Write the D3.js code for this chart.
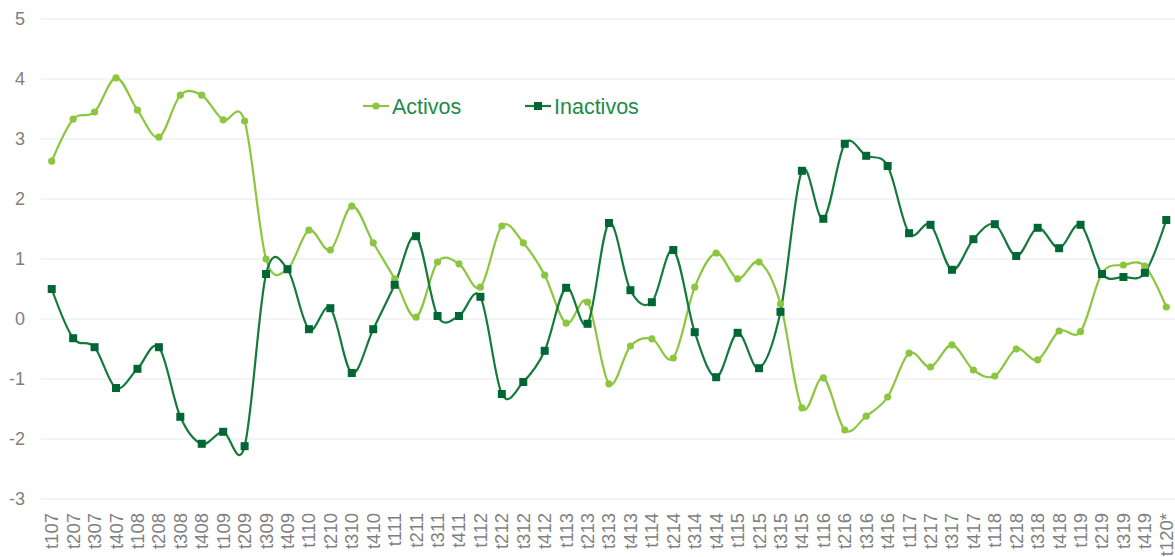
<!DOCTYPE html>
<html>
<head>
<meta charset="utf-8">
<script src="https://cdn.jsdelivr.net/npm/d3@7"></script>
<style>
  body { margin: 0; background: #fff; }
  svg { display: block; font-family: "Liberation Sans", Arial, sans-serif; }
</style>
</head>
<body>
<div id="chart"></div>
<script>
// periodos (trimestre + año)
var periodos = ["t107","t207","t307","t407","t108","t208","t308","t408","t109","t209",
  "t309","t409","t110","t210","t310","t410","t111","t211","t311","t411",
  "t112","t212","t312","t412","t113","t213","t313","t413","t114","t214",
  "t314","t414","t115","t215","t315","t415","t116","t216","t316","t416",
  "t117","t217","t317","t417","t118","t218","t318","t418","t119","t219",
  "t319","t419","t120*"];

var activos = [2.63, 3.33, 3.45, 4.02, 3.48, 3.03, 3.73, 3.73, 3.32, 3.30,
  1.00, 0.83, 1.48, 1.15, 1.88, 1.27, 0.67, 0.03, 0.95, 0.92,
  0.53, 1.55, 1.27, 0.73, -0.07, 0.28, -1.08, -0.45, -0.33, -0.65,
  0.53, 1.10, 0.67, 0.95, 0.25, -1.48, -0.98, -1.85, -1.62, -1.30,
  -0.57, -0.80, -0.43, -0.85, -0.95, -0.50, -0.68, -0.20, -0.21, 0.76,
  0.90, 0.88, 0.20];

var inactivos = [0.50, -0.32, -0.47, -1.15, -0.83, -0.47, -1.63, -2.08, -1.88, -2.12,
  0.75, 0.83, -0.17, 0.18, -0.90, -0.17, 0.57, 1.38, 0.05, 0.05,
  0.37, -1.25, -1.05, -0.53, 0.52, -0.08, 1.60, 0.48, 0.28, 1.15,
  -0.22, -0.97, -0.23, -0.82, 0.12, 2.47, 1.67, 2.92, 2.72, 2.55,
  1.43, 1.57, 0.82, 1.33, 1.58, 1.05, 1.52, 1.18, 1.57, 0.75,
  0.70, 0.77, 1.65];

var yTicks = [-3, -2, -1, 0, 1, 2, 3, 4, 5];

var W = 1175, H = 557;
var margin = { top: 19, right: 0, bottom: 58, left: 41 };

var colActivos = "#8cc63f",
    colInactivos = "#137a3c",
    colInactMarker = "#006633",
    colTexto = "#7f7f7f";

var svg = d3.select("#chart").append("svg")
    .attr("width", W)
    .attr("height", H);

var x = d3.scaleBand()
    .domain(periodos)
    .range([margin.left, W - margin.right + 2]);

var y = d3.scaleLinear()
    .domain([-3, 5])
    .range([H - margin.bottom, margin.top]);

var cx = function(i) { return x(periodos[i]) + x.bandwidth() / 2; };

// lineas de cuadricula
svg.append("g")
  .selectAll("line")
  .data(yTicks)
  .enter().append("line")
    .attr("x1", margin.left)
    .attr("x2", W)
    .attr("y1", d => y(d))
    .attr("y2", d => y(d))
    .attr("stroke", "#e6ebe8")
    .attr("stroke-width", 1);

// eje Y
var yAxis = svg.append("g")
    .attr("transform", "translate(" + (margin.left - 16) + ",0)")
    .call(d3.axisLeft(y).tickValues(yTicks).tickSize(0).tickPadding(0)
      .tickFormat(d => String(d)));
yAxis.select(".domain").remove();
yAxis.attr("font-size", null).attr("font-family", null);
yAxis.selectAll("text")
    .style("font-size", "18px")
    .attr("fill", colTexto);

// eje X (etiquetas rotadas)
var xAxis = svg.append("g")
    .attr("transform", "translate(0," + (H - margin.bottom) + ")")
    .call(d3.axisBottom(x).tickSize(0).tickPadding(0));
xAxis.select(".domain").remove();
xAxis.attr("font-size", null).attr("font-family", null);
xAxis.selectAll("text")
    .style("font-size", "18.5px")
    .attr("fill", colTexto)
    .attr("text-anchor", "end")
    .attr("transform", "rotate(-90)")
    .attr("x", -14)
    .attr("y", 0)
    .attr("dy", "0.35em");

var linea = d3.line()
    .x((d, i) => cx(i))
    .y(d => y(d))
    .curve(d3.curveCardinal.tension(0));

// Activos
svg.append("path")
    .datum(activos)
    .attr("d", linea)
    .attr("fill", "none")
    .attr("stroke", colActivos)
    .attr("stroke-width", 2.2);

// Inactivos
svg.append("path")
    .datum(inactivos)
    .attr("d", linea)
    .attr("fill", "none")
    .attr("stroke", colInactivos)
    .attr("stroke-width", 2.2);

svg.append("g")
  .selectAll("circle")
  .data(activos)
  .enter().append("circle")
    .attr("cx", (d, i) => cx(i))
    .attr("cy", d => y(d))
    .attr("r", 3.6)
    .attr("fill", colActivos);

svg.append("g")
  .selectAll("rect")
  .data(inactivos)
  .enter().append("rect")
    .attr("x", (d, i) => cx(i) - 4)
    .attr("y", d => y(d) - 4)
    .attr("width", 8)
    .attr("height", 8)
    .attr("fill", colInactMarker);

// leyenda
var leyenda = [
  { nombre: "Activos", color: colActivos, marca: "circle", x: 363 },
  { nombre: "Inactivos", color: colInactivos, marca: "rect", x: 525 }
];
var ly = 106;
var lg = svg.append("g").selectAll("g")
    .data(leyenda)
    .enter().append("g")
    .attr("transform", d => "translate(" + d.x + "," + ly + ")");

lg.append("line")
    .attr("x1", 0).attr("x2", 26)
    .attr("y1", 0).attr("y2", 0)
    .attr("stroke", d => d.color)
    .attr("stroke-width", 2.2);

lg.filter(d => d.marca == "circle").append("circle")
    .attr("cx", 13).attr("cy", 0).attr("r", 3.6)
    .attr("fill", d => d.color);

lg.filter(d => d.marca == "rect").append("rect")
    .attr("x", 9).attr("y", -4).attr("width", 8).attr("height", 8)
    .attr("fill", colInactMarker);

lg.append("text")
    .attr("x", 29)
    .attr("y", 0)
    .attr("dy", "0.35em")
    .style("font-size", "21.5px")
    .attr("fill", "#1e8c45")
    .text(d => d.nombre);
</script>
</body>
</html>
